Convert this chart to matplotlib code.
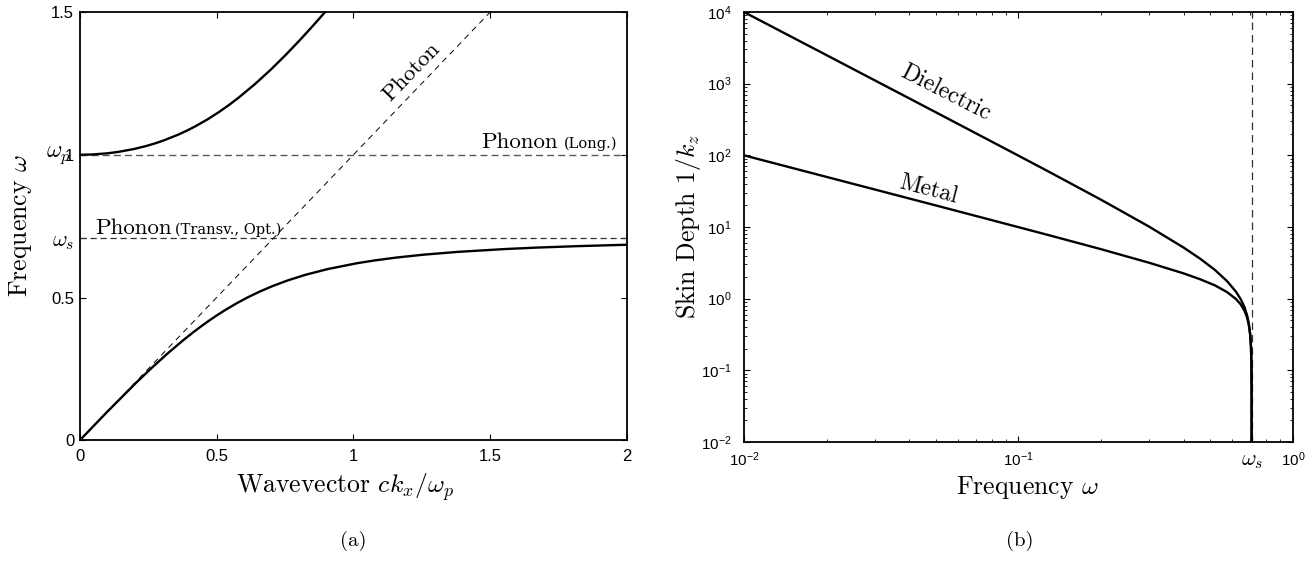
import matplotlib.pyplot as plt
from matplotlib.ticker import NullFormatter

plt.rcParams['font.family'] = 'cmr10'
plt.rcParams['mathtext.fontset'] = 'cm'
plt.rcParams['axes.unicode_minus'] = False
# sans fontset used only for the 10^n tick labels
plt.rcParams['mathtext.rm'] = 'Liberation Sans'
plt.rcParams['mathtext.it'] = 'Liberation Sans:italic'
plt.rcParams['mathtext.bf'] = 'Liberation Sans:bold'

w_p = 1.0
w_s = 0.707

# (a) dispersion: wavevector ck_x/w_p and frequency w
lower_k = [0, 0.1005, 0.2043, 0.2588, 0.316, 0.3773, 0.4168, 0.4446, 0.4738, 0.5047,
           0.5378, 0.5735, 0.6124, 0.6555, 0.704, 0.7599, 0.826, 0.9071, 1.0117,
           1.0774, 1.1565, 1.2547, 1.3816, 1.5558, 1.6713, 1.8181, 2.0]
lower_w = [0, 0.10, 0.20, 0.25, 0.30, 0.35, 0.38, 0.40, 0.42, 0.44,
           0.46, 0.48, 0.50, 0.52, 0.54, 0.56, 0.58, 0.60, 0.62,
           0.63, 0.64, 0.65, 0.66, 0.67, 0.675, 0.68, 0.685]

upper_k = [0, 0.0447, 0.0996, 0.1404, 0.1972, 0.240, 0.2755, 0.3062, 0.3586,
           0.3925, 0.423, 0.4686, 0.5092, 0.5462, 0.5805, 0.6431, 0.70, 0.7528,
           0.8027, 0.8505, 0.8966]
upper_w = [1.0, 1.001, 1.005, 1.01, 1.02, 1.03, 1.04, 1.05, 1.07,
           1.085, 1.10, 1.125, 1.15, 1.175, 1.20, 1.25, 1.30, 1.35,
           1.40, 1.45, 1.50]

photon_k = [0, 1.5]
photon_w = [0, 1.5]

# (b) skin depth 1/k_z against frequency
freq = [0.01, 0.02, 0.05, 0.1, 0.13, 0.2, 0.3, 0.4, 0.46, 0.52, 0.575, 0.62,
        0.645, 0.665, 0.68, 0.69, 0.698, 0.703, 0.7055, 0.7068, 0.7071]
depth_diel = [1e4, 2500, 399, 99, 58.2, 24.0, 10.06, 5.15, 3.59, 2.51, 1.76, 1.25,
              0.985, 0.769, 0.593, 0.459, 0.328, 0.218, 0.135, 0.059, 0.001]
depth_metal = [100, 50, 20, 9.95, 7.63, 4.9, 3.16, 2.25, 1.86, 1.53, 1.237, 0.988,
               0.832, 0.685, 0.55, 0.438, 0.32, 0.216, 0.134, 0.059, 0.001]

fig = plt.figure(figsize=(13.16, 5.72), dpi=100)
ax1 = fig.add_axes([0.0606, 0.2302, 0.4159, 0.7488])
ax2 = fig.add_axes([0.5653, 0.2273, 0.4172, 0.7517])

# ---- (a) ----
ax1.plot([0, 2], [w_p, w_p], color='0.35', lw=1.0, dashes=(5, 3))
ax1.plot([0, 2], [w_s, w_s], color='0.2', lw=0.9, dashes=(5, 3))
ax1.plot(photon_k, photon_w, color='k', lw=0.7, dashes=(6, 5))
ax1.plot(lower_k, lower_w, color='k', lw=1.7)
ax1.plot(upper_k, upper_w, color='k', lw=1.7)

ax1.set_xlim(0, 2)
ax1.set_ylim(0, 1.5)
ax1.set_xticks([0, 0.5, 1, 1.5, 2], ['0', '0.5', '1', '1.5', '2'])
ax1.set_yticks([0, 0.5, w_s, w_p, 1.5], ['0', '0.5', r'$\omega_s$', '1', '1.5'])
ax1.text(-0.016, w_p, r'$\omega_p$', transform=ax1.get_yaxis_transform(),
         ha='right', va='center', fontsize=17)

ax1.text(1.21, 1.29, 'Photon', rotation=46, ha='center', va='center', fontsize=16.5)
ax1.text(1.466, 1.025, 'Phonon', ha='left', va='baseline', fontsize=16.5)
ax1.text(1.77, 1.025, '(Long.)', ha='left', va='baseline', fontsize=10.5,
         family='DejaVu Serif')
ax1.text(0.056, 0.722, 'Phonon', ha='left', va='baseline', fontsize=16.5)
ax1.text(0.349, 0.722, '(Transv., Opt.)', ha='left', va='baseline', fontsize=10.5,
         family='DejaVu Serif')

# ---- (b) ----
ax2.set_xscale('log')
ax2.set_yscale('log')
ax2.plot([w_s, w_s], [1e-2, 1e4], color='0.2', lw=0.9, dashes=(6, 4))
ax2.plot(freq, depth_diel, color='k', lw=1.7)
ax2.plot(freq, depth_metal, color='k', lw=1.7)
ax2.set_xlim(1e-2, 1)
ax2.set_ylim(1e-2, 1e4)

ax2.set_xticks([1e-2, 1e-1, w_s, 1],
               [r'$10^{-2}$', r'$10^{-1}$', r'$\omega_s$', r'$10^{0}$'],
               math_fontfamily='custom')
ax2.set_yticks([1e-2, 1e-1, 1, 1e1, 1e2, 1e3, 1e4],
               [r'$10^{-2}$', r'$10^{-1}$', r'$10^{0}$', r'$10^{1}$', r'$10^{2}$',
                r'$10^{3}$', r'$10^{4}$'],
               math_fontfamily='custom')
ax2.xaxis.set_minor_formatter(NullFormatter())
ax2.yaxis.set_minor_formatter(NullFormatter())

ax2.text(0.0544, 741, 'Dielectric', rotation=-27, ha='center', va='center', fontsize=17)
ax2.text(0.0472, 32.8, 'Metal', rotation=-14.6, ha='center', va='center', fontsize=17)

for ax in (ax1, ax2):
    for s in ax.spines.values():
        s.set_linewidth(1.3)
    ax.tick_params(which='both', direction='in', top=True, right=True,
                   labelsize=12, labelfontfamily='Liberation Sans')
    ax.tick_params(which='major', length=4, width=0.8)
    ax.tick_params(which='minor', length=2, width=0.6)
    ax.tick_params(axis='x', pad=6)
ax1.tick_params(axis='y', pad=4)
ax2.tick_params(labelsize=11)
ax2.tick_params(axis='y', pad=9)

# omega_s tick labels in the math font, larger than the numbers
ws_left = ax1.get_yticklabels()[2]
ws_left.set_fontsize(16)
ws_right = ax2.get_xticklabels()[2]
ws_right.set_math_fontfamily('cm')
ws_right.set_fontsize(16)

# axis titles and panel captions
fig.text(0.2622, 0.1486, r'Wavevector $ck_x/\omega_p$', ha='center', va='center', fontsize=18.5)
fig.text(0.7804, 0.1486, r'Frequency $\omega$', ha='center', va='center', fontsize=18.5)
fig.text(0.0152, 0.6049, r'Frequency $\omega$', rotation=90, ha='center', va='center',
         fontsize=18.5)
fig.text(0.5235, 0.6049, r'Skin Depth $1/k_z$', rotation=90, ha='center', va='center',
         fontsize=18.5)
fig.text(0.2682, 0.0542, '(a)', ha='center', va='center', fontsize=15)
fig.text(0.7751, 0.0542, '(b)', ha='center', va='center', fontsize=15)

fig.savefig('out.png', dpi=100)
